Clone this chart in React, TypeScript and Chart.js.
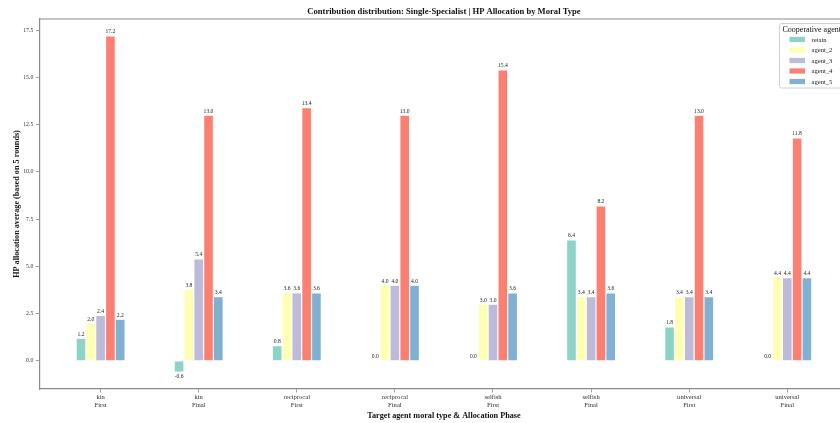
import { useEffect, useRef } from "react";
import { Chart, registerables } from "chart.js";

Chart.register(...registerables);

const CATEGORIES: string[][] = [
  ["kin", "First"],
  ["kin", "Final"],
  ["reciprocal", "First"],
  ["reciprocal", "Final"],
  ["selfish", "First"],
  ["selfish", "Final"],
  ["universal", "First"],
  ["universal", "Final"],
];
const SERIES_NAMES = ["retain", "agent_2", "agent_3", "agent_4", "agent_5"];
const RETAIN = [1.2, -0.6, 0.8, 0.0, 0.0, 6.4, 1.8, 0.0];
const AGENT_2 = [2.0, 3.8, 3.6, 4.0, 3.0, 3.4, 3.4, 4.4];
const AGENT_3 = [2.4, 5.4, 3.6, 4.0, 3.0, 3.4, 3.4, 4.4];
const AGENT_4 = [17.2, 13.0, 13.4, 13.0, 15.4, 8.2, 13.0, 11.8];
const AGENT_5 = [2.2, 3.4, 3.6, 4.0, 3.6, 3.6, 3.4, 4.4];
const SERIES_VALUES = [RETAIN, AGENT_2, AGENT_3, AGENT_4, AGENT_5];
const Y_TICKS = [0, 2.5, 5.0, 7.5, 10.0, 12.5, 15.0, 17.5];
const COLORS = ["#8dd3c7", "#ffffb3", "#bebada", "#fb8072", "#80b1d3"];

const TITLE = "Contribution distribution: Single-Specialist | HP Allocation by Moral Type";
const X_TITLE = "Target agent moral type & Allocation Phase";
const Y_TITLE = "HP allocation average (based on 5 rounds)";
const LEGEND_TITLE = "Cooperative agent";

const FONT = "'Liberation Serif', 'Times New Roman', serif";
const SPINE = "#8a8a8a";
const CANVAS_W = 860;
const CANVAS_H = 423;

const overlay = {
  id: "overlay",
  afterDatasetsDraw(chart: any) {
    const ctx = chart.ctx;
    ctx.save();
    ctx.font = `5.6px ${FONT}`;
    ctx.fillStyle = "#222";
    ctx.textAlign = "center";
    chart.data.datasets.forEach((ds: any, di: number) => {
      const meta = chart.getDatasetMeta(di);
      meta.data.forEach((el: any, i: number) => {
        const v = ds.data[i].y;
        const txt = v.toFixed(1);
        if (v < 0) {
          ctx.textBaseline = "top";
          ctx.fillText(txt, el.x, el.y + 1.5);
        } else {
          ctx.textBaseline = "bottom";
          ctx.fillText(txt, el.x, el.y - 1.2);
        }
      });
    });
    ctx.restore();
  },
  afterDraw(chart: any) {
    const ctx = chart.ctx;
    const a = chart.chartArea;
    ctx.save();
    // top spine
    ctx.strokeStyle = SPINE;
    ctx.lineWidth = 1.2;
    ctx.beginPath();
    ctx.moveTo(a.left, a.top);
    ctx.lineTo(a.right, a.top);
    ctx.stroke();

    const cx = (a.left + a.right) / 2;
    ctx.fillStyle = "#111";
    ctx.textAlign = "center";
    ctx.textBaseline = "middle";
    ctx.font = `bold 8.6px ${FONT}`;
    ctx.fillText(TITLE, cx, 12);

    ctx.font = `bold 8.2px ${FONT}`;
    ctx.fillText(X_TITLE, cx, 415.5);

    ctx.save();
    ctx.translate(16.5, (a.top + a.bottom) / 2);
    ctx.rotate(-Math.PI / 2);
    ctx.fillText(Y_TITLE, 0, 0);
    ctx.restore();

    // legend
    const lx = 779.5;
    const ly = 23.5;
    const lw = 80;
    const lh = 64.5;
    const r = 2;
    ctx.fillStyle = "rgba(255,255,255,0.85)";
    ctx.strokeStyle = "#d0d0d0";
    ctx.lineWidth = 1;
    ctx.beginPath();
    ctx.moveTo(lx + r, ly);
    ctx.lineTo(lx + lw - r, ly);
    ctx.quadraticCurveTo(lx + lw, ly, lx + lw, ly + r);
    ctx.lineTo(lx + lw, ly + lh - r);
    ctx.quadraticCurveTo(lx + lw, ly + lh, lx + lw - r, ly + lh);
    ctx.lineTo(lx + r, ly + lh);
    ctx.quadraticCurveTo(lx, ly + lh, lx, ly + lh - r);
    ctx.lineTo(lx, ly + r);
    ctx.quadraticCurveTo(lx, ly, lx + r, ly);
    ctx.closePath();
    ctx.fill();
    ctx.stroke();

    ctx.textAlign = "left";
    ctx.textBaseline = "middle";
    ctx.fillStyle = "#111";
    ctx.font = `8px ${FONT}`;
    ctx.fillText(LEGEND_TITLE, 782.5, 29.5);
    ctx.font = `6.6px ${FONT}`;
    chart.data.datasets.forEach((ds: any, di: number) => {
      const y = 39.5 + di * 10.5;
      ctx.fillStyle = ds.backgroundColor;
      ctx.fillRect(789.5, y - 2.6, 15.5, 5.2);
      ctx.fillStyle = "#222";
      ctx.fillText(ds.label, 811.5, y + 0.3);
    });
    ctx.restore();
  },
};

export default function App() {
  const ref = useRef<HTMLCanvasElement | null>(null);

  useEffect(() => {
    if (!ref.current) return;
    const datasets = SERIES_NAMES.map((name, si) => ({
      label: name,
      data: SERIES_VALUES[si].map((v, i) => ({ x: i, y: v })),
      backgroundColor: COLORS[si],
      borderColor: "rgba(255,255,255,0.55)",
      borderWidth: 0.6,
      categoryPercentage: 0.5,
      barPercentage: 1.0,
    }));

    const chart = new Chart(ref.current, {
      type: "bar",
      data: { datasets },
      plugins: [overlay],
      options: {
        responsive: false,
        animation: false,
        devicePixelRatio: 1,
        layout: { padding: { top: 19, left: 0, right: CANVAS_W - 848.6, bottom: 0 } },
        plugins: {
          legend: { display: false },
          title: { display: false },
          tooltip: { enabled: false },
        },
        scales: {
          x: {
            type: "linear",
            offset: false,
            min: -0.625,
            max: CATEGORIES.length - 1 + 0.625,
            afterBuildTicks: (s: any) => {
              s.ticks = CATEGORIES.map((_, i) => ({ value: i }));
            },
            afterFit: (s: any) => {
              s.height = CANVAS_H - 389;
            },
            ticks: {
              autoSkip: false,
              maxRotation: 0,
              padding: 1.5,
              color: "#333",
              font: { family: FONT, size: 6.6, lineHeight: 1.1 },
              callback: (v: any) => CATEGORIES[Math.round(Number(v))] ?? "",
            },
            grid: {
              display: true,
              offset: false,
              drawOnChartArea: false,
              drawTicks: true,
              tickLength: 3.5,
              color: SPINE,
              lineWidth: 0.8,
            },
            border: { display: true, color: SPINE, width: 1.2 },
          },
          y: {
            type: "linear",
            min: -1.49,
            max: 18.09,
            afterBuildTicks: (s: any) => {
              s.ticks = Y_TICKS.map((v) => ({ value: v }));
            },
            afterFit: (s: any) => {
              s.width = 39.3;
            },
            ticks: {
              padding: 2.5,
              color: "#333",
              font: { family: FONT, size: 5.8 },
              callback: (v: any) => Number(v).toFixed(1),
            },
            grid: {
              display: true,
              drawOnChartArea: false,
              drawTicks: true,
              tickLength: 3.5,
              color: SPINE,
              lineWidth: 0.8,
            },
            border: { display: true, color: SPINE, width: 1.2 },
          },
        },
      } as any,
    });
    return () => chart.destroy();
  }, []);

  return (
    <div
      style={{
        position: "fixed",
        left: 0,
        top: 0,
        width: CANVAS_W,
        height: CANVAS_H,
        background: "#fff",
      }}
    >
      <canvas ref={ref} width={CANVAS_W} height={CANVAS_H} style={{ display: "block" }} />
    </div>
  );
}
